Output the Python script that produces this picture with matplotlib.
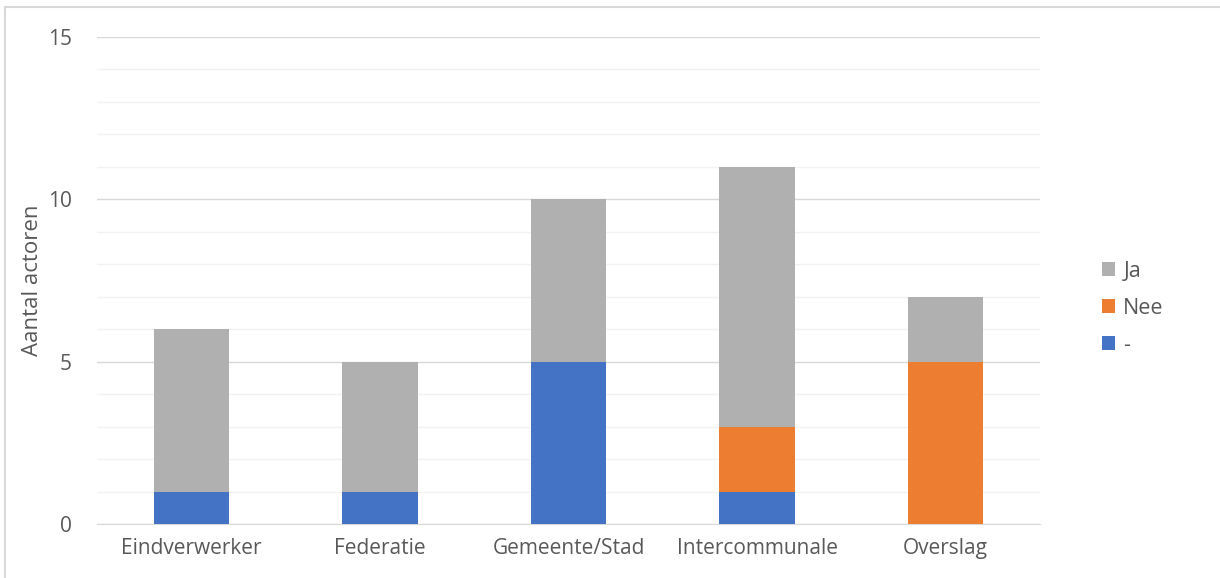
import numpy as np
import matplotlib.pyplot as plt
from matplotlib.patches import Rectangle

plt.rcParams['font.family'] = ['Open Sans', 'DejaVu Sans']

# data
categories = ['Eindverwerker', 'Federatie', 'Gemeente/Stad', 'Intercommunale', 'Overslag']
streep = [1, 1, 5, 1, 0]   # "-"
nee = [0, 0, 0, 2, 5]
ja = [5, 4, 5, 8, 2]

c_streep = '#4472C4'
c_nee = '#ED7D31'
c_ja = '#B0B0B0'
txt = '#595959'

fig = plt.figure(figsize=(12.2, 5.78), dpi=100)
ax = fig.add_axes([97/1220, 1-524/578, (1040-97)/1220, (524-37)/578])

x = np.arange(len(categories))
w = 0.40
b1 = ax.bar(x, streep, w, color=c_streep, label='-', zorder=3)
b2 = ax.bar(x, nee, w, bottom=streep, color=c_nee, label='Nee', zorder=3)
bottom2 = np.array(streep) + np.array(nee)
b3 = ax.bar(x, ja, w, bottom=bottom2, color=c_ja, label='Ja', zorder=3)

ax.set_xlim(-0.5, len(categories) - 0.5)
ax.set_ylim(0, 15)
ax.set_yticks([0, 5, 10, 15])
ax.set_yticks(np.arange(0, 16, 1), minor=True)
ax.grid(axis='y', which='minor', color='#F2F2F2', lw=1, zorder=0)
ax.grid(axis='y', which='major', color='#D9D9D9', lw=1, zorder=1)
ax.tick_params(axis='y', which='both', length=0, labelsize=15, labelcolor=txt, pad=18)
ax.tick_params(axis='x', length=0, labelsize=15, labelcolor=txt, pad=10)
ax.set_xticks(x)
ax.set_xticklabels(categories)
for s in ['top', 'right', 'left']:
    ax.spines[s].set_visible(False)
ax.spines['bottom'].set_color('#D9D9D9')
ax.set_ylabel('Aantal actoren', fontsize=16, color=txt)
ax.yaxis.set_label_coords(-0.057, 0.5)

ax.legend(handles=[b3, b2, b1], loc='center left', bbox_to_anchor=(1.045, 0.443),
          frameon=False, fontsize=15.5, labelcolor=txt, handlelength=0.6,
          handleheight=0.6, handletextpad=0.4, labelspacing=0.75)

# rand rond de grafiek
fig.patches.append(Rectangle((5/1220, -0.01), 1.02, 1 - 7/578 + 0.01,
                             transform=fig.transFigure, fill=False,
                             ec='#D9D9D9', lw=1.5))

fig.savefig('out.png', dpi=100)
